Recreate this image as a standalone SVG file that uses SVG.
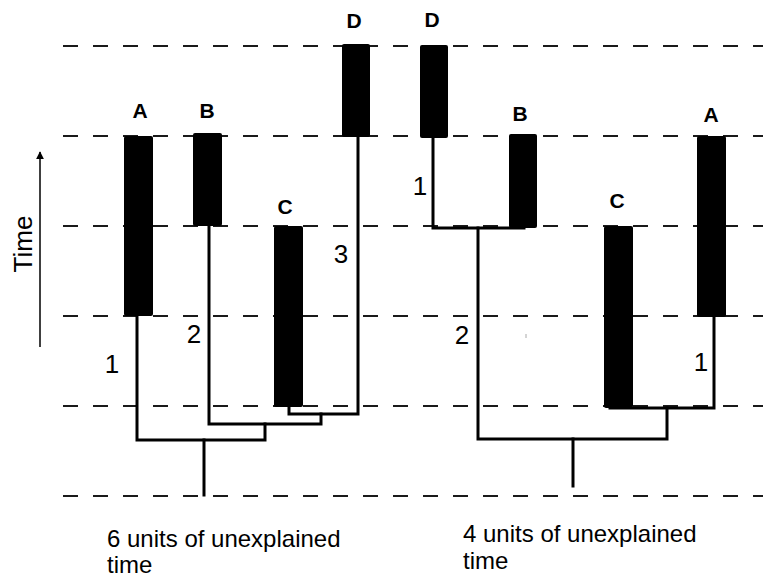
<svg xmlns="http://www.w3.org/2000/svg" width="763" height="579" viewBox="0 0 763 579">
  <style>
    .grid { stroke: #1a1a1a; stroke-width: 2; stroke-dasharray: 15 15; fill: none; }
    .branch { stroke: #000; stroke-width: 3; fill: none; stroke-linecap: square; }
    .bar { fill: #000; }
    .tip { font-family: "Liberation Sans", Arial, sans-serif; font-weight: bold; font-size: 21px; text-anchor: middle; fill: #000; }
    .len { font-family: "Liberation Sans", Arial, sans-serif; font-size: 26px; text-anchor: middle; fill: #000; }
    .note { font-family: "Liberation Sans", Arial, sans-serif; font-size: 24px; fill: #000; }
  </style>
  <defs>
    <marker id="arrowhead" viewBox="0 0 10 10" refX="9" refY="5" markerWidth="8" markerHeight="8" markerUnits="userSpaceOnUse" orient="auto">
      <path d="M0,0 L10,5 L0,10 z" fill="#000"/>
    </marker>
  </defs>

  <rect width="763" height="579" fill="#fff"/>

  <!-- time grid -->
  <g id="grid">
    <line class="grid" x1="63" y1="46" x2="763" y2="46"/>
    <line class="grid" x1="63" y1="136" x2="763" y2="136"/>
    <line class="grid" x1="63" y1="226" x2="763" y2="226"/>
    <line class="grid" x1="63" y1="316" x2="763" y2="316"/>
    <line class="grid" x1="63" y1="406" x2="763" y2="406"/>
    <line class="grid" x1="63" y1="496" x2="763" y2="496"/>
  </g>

  <!-- time axis -->
  <g id="time-axis">
    <line x1="40" y1="347" x2="40" y2="152" stroke="#000" stroke-width="1.5" marker-end="url(#arrowhead)"/>
    <text x="32" y="244" transform="rotate(-90 32 244)" font-family="Liberation Sans, Arial, sans-serif" font-size="26" text-anchor="middle">Time</text>
  </g>

  <!-- connectors -->
  <g id="connectors">
    <!-- left tree -->
    <path class="branch" d="M137,316 V440 H265 V424"/>
    <path class="branch" d="M204,440 V495"/>
    <path class="branch" d="M209,226 V424 H321 V414"/>
    <path class="branch" d="M289,406 V414 H358 V137"/>
    <!-- right tree -->
    <path class="branch" d="M433,137 V228 H524"/>
    <path class="branch" d="M478,228 V439 H667 V408"/>
    <path class="branch" d="M610,408 H714 V317"/>
    <path class="branch" d="M573,439 V486"/>
    <line x1="526" y1="334" x2="526" y2="338" stroke="#aaa" stroke-width="1"/>
  </g>

  <!-- left tree lineages -->
  <g id="left-A">
    <rect class="bar" x="124" y="136" width="29" height="180" rx="2"/>
    <text class="tip" x="140" y="118">A</text>
    <text class="len" x="112" y="373">1</text>
  </g>
  <g id="left-B">
    <rect class="bar" x="193" y="133" width="29" height="93" rx="2"/>
    <text class="tip" x="207" y="118">B</text>
    <text class="len" x="194" y="343">2</text>
  </g>
  <g id="left-C">
    <rect class="bar" x="274" y="226" width="29" height="181" rx="2"/>
    <text class="tip" x="285" y="214">C</text>
  </g>
  <g id="left-D">
    <rect class="bar" x="342" y="44" width="28" height="93" rx="2"/>
    <text class="tip" x="354" y="28">D</text>
    <text class="len" x="341" y="263">3</text>
  </g>

  <!-- right tree lineages -->
  <g id="right-D">
    <rect class="bar" x="420" y="45" width="28" height="93" rx="2"/>
    <text class="tip" x="432" y="27">D</text>
    <text class="len" x="420" y="195">1</text>
  </g>
  <g id="right-B">
    <rect class="bar" x="509" y="134" width="28" height="94" rx="2"/>
    <text class="tip" x="520" y="121">B</text>
  </g>
  <g id="right-C">
    <rect class="bar" x="604" y="226" width="29" height="182" rx="2"/>
    <text class="tip" x="617" y="208">C</text>
  </g>
  <g id="right-A">
    <rect class="bar" x="697" y="136" width="29" height="181" rx="2"/>
    <text class="tip" x="711" y="122">A</text>
    <text class="len" x="701" y="371">1</text>
  </g>
  <g id="right-root-label">
    <text class="len" x="462" y="344">2</text>
  </g>

  <!-- captions -->
  <g id="caption-left">
    <text class="note" x="107" y="547">6 units of unexplained</text>
    <text class="note" x="107" y="573">time</text>
  </g>
  <g id="caption-right">
    <text class="note" x="463" y="542">4 units of unexplained</text>
    <text class="note" x="463" y="569">time</text>
  </g>
</svg>
